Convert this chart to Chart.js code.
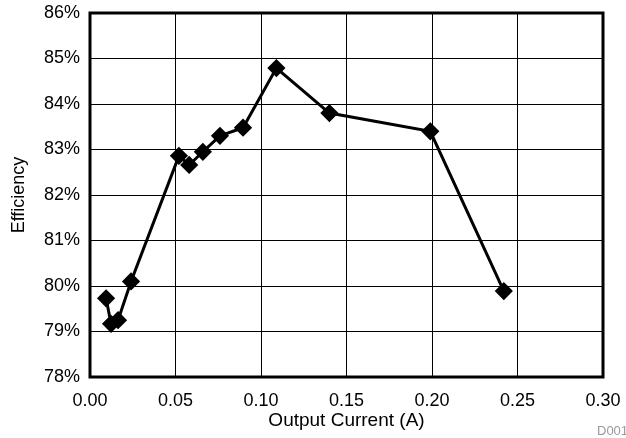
<!DOCTYPE html>
<html>
<head>
<meta charset="utf-8">
<script src="https://cdn.jsdelivr.net/npm/chart.js@4/dist/chart.umd.min.js"></script>
<style>
  html, body { margin: 0; padding: 0; background: #fff; }
  canvas { display: block; }
</style>
</head>
<body>
<canvas id="chart" width="626" height="438"></canvas>
<script>
// data
const current = [0.0094, 0.0123, 0.0164, 0.024, 0.052, 0.058, 0.066, 0.076, 0.0895, 0.109, 0.140, 0.199, 0.242];
const efficiency = [79.73, 79.17, 79.25, 80.10, 82.86, 82.66, 82.95, 83.30, 83.48, 84.79, 83.80, 83.40, 79.89];
const xTicks = [0, 0.05, 0.10, 0.15, 0.20, 0.25, 0.30];
const yTicks = [78, 79, 80, 81, 82, 83, 84, 85, 86];

const font = "'Liberation Sans', Arial, sans-serif";
Chart.defaults.font.family = font;
Chart.defaults.color = '#000';

//frame + figure id
const frame = {
    id: 'frame',
    afterDraw(c) {
        const { ctx, chartArea: a } = c;
        ctx.save();
        ctx.strokeStyle = '#000';
        ctx.lineWidth = 3;
        ctx.strokeRect(a.left, a.top, a.right - a.left, a.bottom - a.top);
        ctx.fillStyle = '#9a9a9a';
        ctx.font = "13px " + font;
        ctx.textBaseline = 'alphabetic';
        ctx.fillText('D001', 597, 435);
        ctx.restore();
    }
};

const chart = document.querySelector('#chart').getContext('2d');

new Chart(chart, {
    type: 'scatter',
    data: {
        datasets: [
            {
                data: current.map((x, i) => ({ x: x, y: efficiency[i] })),
                showLine: true,
                borderColor: '#000',
                backgroundColor: '#000',
                borderWidth: 3,
                pointStyle: 'rectRot',
                pointRadius: 7,
                pointHoverRadius: 7
            }
        ]
    },
    options: {
        responsive: false,
        animation: false,
        events: [],
        layout: { padding: { left: 0, top: 13, right: 23, bottom: 0 } },
        plugins: { legend: { display: false }, tooltip: { enabled: false } },
        scales: {
            x: {
                type: 'linear',
                min: 0,
                max: 0.30,
                afterFit: s => { s.height = 61; s.paddingLeft = 0; s.paddingRight = 0; },
                afterBuildTicks: s => { s.ticks = xTicks.map(v => ({ value: v })); },
                grid: { color: '#000', lineWidth: 1, drawTicks: false },
                border: { display: false },
                ticks: {
                    padding: 13,
                    font: { size: 18 },
                    callback: v => v.toFixed(2)
                },
                title: {
                    display: true,
                    text: 'Output Current (A)',
                    font: { size: 19 },
                    padding: { top: 0, bottom: 6 }
                }
            },
            y: {
                min: 78,
                max: 86,
                afterFit: s => { s.width = 90; s.paddingTop = 0; s.paddingBottom = 0; },
                afterBuildTicks: s => { s.ticks = yTicks.map(v => ({ value: v })); },
                grid: { color: '#000', lineWidth: 1, drawTicks: false },
                border: { display: false },
                ticks: {
                    padding: 10,
                    font: { size: 18 },
                    callback: v => v + '%'
                },
                title: {
                    display: true,
                    text: 'Efficiency',
                    font: { size: 18 },
                    padding: { top: 8, bottom: 0 }
                }
            }
        }
    },
    plugins: [frame]
});
</script>
</body>
</html>
